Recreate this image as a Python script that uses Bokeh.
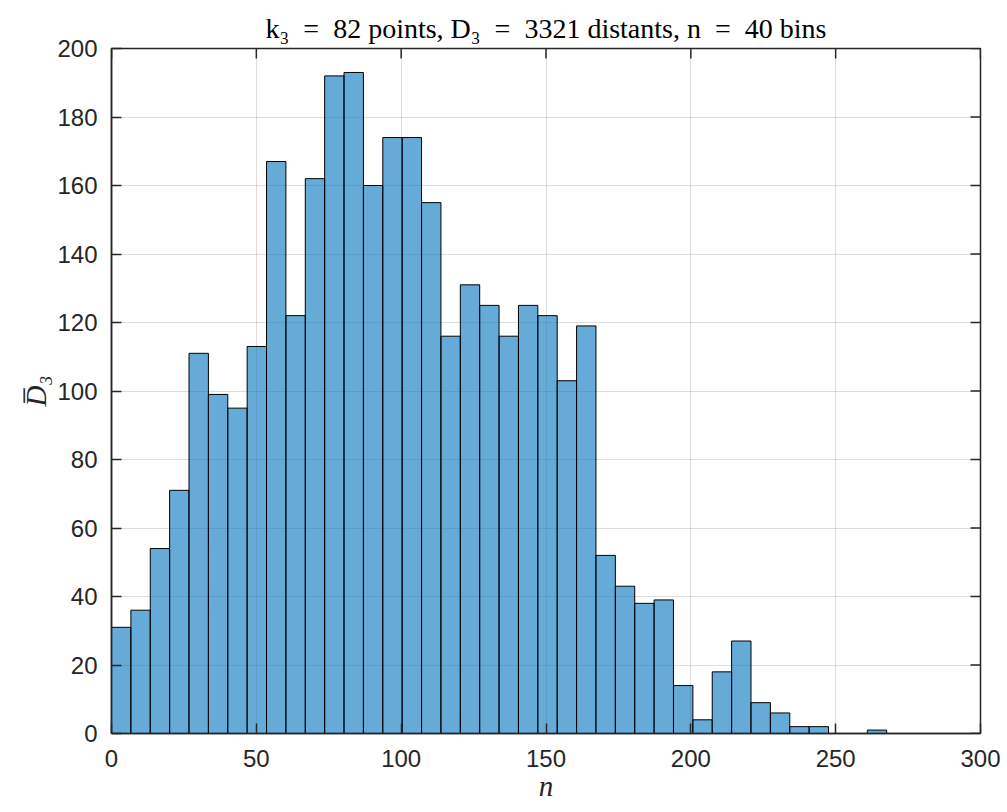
import numpy as np
from bokeh.plotting import figure
from bokeh.models import Range1d, FixedTicker, ColumnDataSource
from bokeh.embed import file_html
from bokeh.resources import INLINE

# ---- data ----
counts = [31, 36, 54, 71, 111, 99, 95, 113, 167, 122,
          162, 192, 193, 160, 174, 174, 155, 116, 131, 125,
          116, 125, 122, 103, 119, 52, 43, 38, 39, 14,
          4, 18, 27, 9, 6, 2, 2, 0, 0, 1]
bin_start = 0.0
bin_width = 6.69
x_ticks = [0, 50, 100, 150, 200, 250, 300]
y_ticks = [0, 20, 40, 60, 80, 100, 120, 140, 160, 180, 200]
x_lim = (0, 300)
y_lim = (0, 200)
sp = "\u2002"
title_text = ("k\u2083" + sp + "=" + sp + "82 points, D\u2083" + sp + "=" + sp +
              "3321 distants, n" + sp + "=" + sp + "40 bins")

edges = bin_start + bin_width * np.arange(len(counts) + 1)
src = ColumnDataSource(dict(left=edges[:-1], right=edges[1:],
                            top=counts, bottom=[0] * len(counts)))

p = figure(width=1007, height=812, output_backend="svg", toolbar_location=None,
           x_range=Range1d(*x_lim), y_range=Range1d(*y_lim),
           min_border_left=111, min_border_right=27,
           min_border_top=48, min_border_bottom=79)

p.title.text = title_text
p.title.align = "center"
p.title.text_font = "Liberation Serif"
p.title.text_font_size = "28px"
p.title.text_font_style = "normal"
p.title.text_color = "#000000"
p.title.standoff = 10

p.quad(left="left", right="right", top="top", bottom="bottom", source=src,
       fill_color="#0072BD", fill_alpha=0.6, line_color="#000000", line_width=1)

axis_color = "#262626"
for ax in [p.xaxis[0], p.yaxis[0]]:
    ax.major_tick_in = 10
    ax.major_tick_out = 0
    ax.minor_tick_in = 0
    ax.minor_tick_out = 0
    ax.axis_line_color = axis_color
    ax.axis_line_width = 1.5
    ax.major_tick_line_color = axis_color
    ax.major_tick_line_width = 1.5
    ax.major_label_text_font = "Liberation Sans"
    ax.major_label_text_font_size = "24px"
    ax.major_label_text_color = "#262626"
    ax.axis_label_text_font = "Liberation Serif"
    ax.axis_label_text_font_style = "italic"
    ax.axis_label_text_font_size = "29px"
    ax.axis_label_text_color = "#262626"

p.xaxis[0].ticker = FixedTicker(ticks=x_ticks)
p.yaxis[0].ticker = FixedTicker(ticks=y_ticks)
p.xaxis[0].axis_label = "n"
p.yaxis[0].axis_label = "D\u0305\u2083"
p.xaxis[0].major_label_standoff = 16
p.yaxis[0].major_label_standoff = 14
p.xaxis[0].axis_label_standoff = 0
p.yaxis[0].axis_label_standoff = 2

# inward ticks on the top and right edges of the box (clipped to the frame)
p.scatter(x=x_ticks, y=[y_lim[1]] * len(x_ticks), marker="dash", size=20,
          angle=np.pi / 2, line_color=axis_color, line_width=1.5)
p.scatter(x=[x_lim[1]] * len(y_ticks), y=y_ticks, marker="dash", size=20,
          angle=0, line_color=axis_color, line_width=1.5)

p.xgrid.ticker = FixedTicker(ticks=x_ticks)
p.ygrid.ticker = FixedTicker(ticks=y_ticks)
for g in [p.xgrid[0], p.ygrid[0]]:
    g.grid_line_color = "#000000"
    g.grid_line_alpha = 0.13
    g.grid_line_width = 1

p.outline_line_color = axis_color
p.outline_line_width = 1.5
p.background_fill_color = "#ffffff"
p.border_fill_color = "#ffffff"

open("out.html", "w").write(file_html(p, INLINE))
